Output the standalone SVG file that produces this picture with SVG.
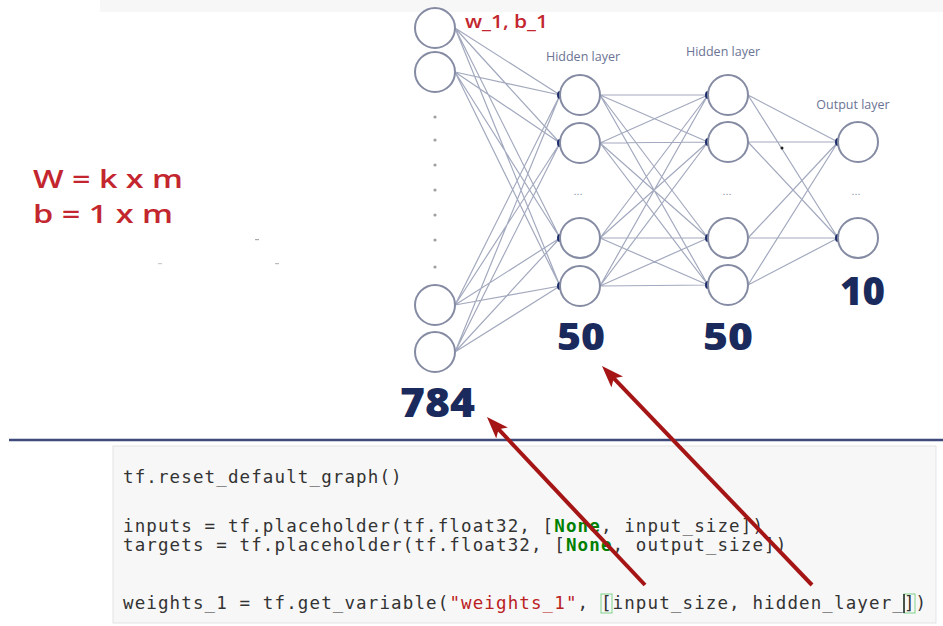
<svg xmlns="http://www.w3.org/2000/svg" width="943" height="626" viewBox="0 0 943 626">
<style>
.node{fill:#ffffff;stroke:#858ba3;stroke-width:2}
.edge{stroke:#a3a9be;stroke-width:1.2;fill:none}
.blob{fill:#1e2d6b}
.dot{fill:#a0a0a0}
.lbl{font-family:"Open Sans","Liberation Sans",sans-serif;font-size:12.5px;font-weight:400;fill:#6b7394}
.ell{font-family:"Liberation Sans",sans-serif;font-size:11px;fill:#8a90a8}
.num{font-family:"Open Sans","Liberation Sans",sans-serif;font-weight:800;fill:#1b2a5c}
.red{font-family:"Open Sans","Liberation Sans",sans-serif;font-weight:600;fill:#c3262e}
.code{font-family:"DejaVu Sans Mono","Liberation Mono",monospace;font-size:17.5px;letter-spacing:1.12px;fill:#333333}
.kw{fill:#008000;font-weight:bold}
.str{fill:#ba2121}
.arrow{stroke:#a51515;stroke-width:4;fill:none}
</style>
<defs>
<marker id="ah" markerUnits="userSpaceOnUse" markerWidth="24" markerHeight="18" refX="10" refY="8" orient="auto">
<path d="M0,0 L22,8 L0,16 L5,8 z" fill="#a51515"/>
</marker>
</defs>
<rect x="0" y="0" width="943" height="626" fill="#ffffff"/>
<rect x="100" y="0" width="843" height="12" fill="#f7f7f7"/>

<g id="connectors">
<path class="edge" d="M455,28 L560,95 M455,28 L560,143 M455,28 L560,238 M455,28 L560,286
M455,72 L560,95 M455,72 L560,143 M455,72 L560,238 M455,72 L560,286
M455,305 L560,95 M455,305 L560,143 M455,305 L560,238 M455,305 L560,286
M455,352 L560,95 M455,352 L560,143 M455,352 L560,238 M455,352 L560,286"/>
<path class="edge" d="M600,95 L708,95 M600,95 L708,142 M600,95 L708,238 M600,95 L708,285
M600,143 L708,95 M600,143 L708,142 M600,143 L708,238 M600,143 L708,285
M600,238 L708,95 M600,238 L708,142 M600,238 L708,238 M600,238 L708,285
M600,286 L708,95 M600,286 L708,142 M600,286 L708,238 M600,286 L708,285"/>
<path class="edge" d="M748,95 L838,142 M748,95 L838,238 M748,142 L838,142 M748,142 L838,238
M748,238 L838,142 M748,238 L838,238 M748,285 L838,142 M748,285 L838,238"/>
<ellipse class="blob" cx="560" cy="95" rx="3" ry="4"/>
<ellipse class="blob" cx="560" cy="143" rx="3" ry="4"/>
<ellipse class="blob" cx="560" cy="238" rx="3" ry="4"/>
<ellipse class="blob" cx="560" cy="286" rx="3" ry="4"/>
<ellipse class="blob" cx="708" cy="95" rx="3" ry="4"/>
<ellipse class="blob" cx="708" cy="142" rx="3" ry="4"/>
<ellipse class="blob" cx="708" cy="238" rx="3" ry="4"/>
<ellipse class="blob" cx="708" cy="285" rx="3" ry="4"/>
<ellipse class="blob" cx="838" cy="142" rx="3" ry="4"/>
<ellipse class="blob" cx="838" cy="238" rx="3" ry="4"/>
<circle cx="782" cy="148" r="1.5" fill="#222"/>
</g>

<g id="input-layer">
<circle class="node" cx="435" cy="28" r="20"/>
<circle class="node" cx="435" cy="72" r="20"/>
<circle class="dot" cx="435" cy="117" r="1.6"/>
<circle class="dot" cx="435" cy="140" r="1.6"/>
<circle class="dot" cx="435" cy="165" r="1.6"/>
<circle class="dot" cx="435" cy="190" r="1.6"/>
<circle class="dot" cx="435" cy="215" r="1.6"/>
<circle class="dot" cx="435" cy="240" r="1.6"/>
<circle class="dot" cx="435" cy="267" r="1.6"/>
<circle class="node" cx="435" cy="305" r="20"/>
<circle class="node" cx="435" cy="352" r="20"/>
<text class="red" x="465" y="28" font-size="18" font-weight="700" textLength="83" lengthAdjust="spacingAndGlyphs">w_1, b_1</text>
<text class="num" x="400" y="417" font-size="40" textLength="75" lengthAdjust="spacingAndGlyphs">784</text>
</g>

<g id="hidden-layer-1">
<text class="lbl" x="583" y="61" text-anchor="middle">Hidden layer</text>
<circle class="node" cx="580" cy="95" r="20"/>
<circle class="node" cx="580" cy="143" r="20"/>
<text class="ell" x="578" y="195" text-anchor="middle">...</text>
<circle class="node" cx="580" cy="238" r="20"/>
<circle class="node" cx="580" cy="286" r="20"/>
<text class="num" x="557" y="350" font-size="37" textLength="48" lengthAdjust="spacingAndGlyphs">50</text>
</g>

<g id="hidden-layer-2">
<text class="lbl" x="723" y="56" text-anchor="middle">Hidden layer</text>
<circle class="node" cx="728" cy="95" r="20"/>
<circle class="node" cx="728" cy="142" r="20"/>
<text class="ell" x="727" y="195" text-anchor="middle">...</text>
<circle class="node" cx="728" cy="238" r="20"/>
<circle class="node" cx="728" cy="285" r="20"/>
<text class="num" x="703" y="350" font-size="37" textLength="50" lengthAdjust="spacingAndGlyphs">50</text>
</g>

<g id="output-layer">
<text class="lbl" x="853" y="109" text-anchor="middle">Output layer</text>
<circle class="node" cx="858" cy="142" r="20"/>
<text class="ell" x="856" y="195" text-anchor="middle">...</text>
<circle class="node" cx="858" cy="238" r="20"/>
<text class="num" x="840" y="305" font-size="38" textLength="45" lengthAdjust="spacingAndGlyphs">10</text>
</g>

<g id="formulas">
<text class="red" x="33" y="188" font-size="25" textLength="150" lengthAdjust="spacingAndGlyphs">W = k x m</text>
<text class="red" x="33" y="223" font-size="25" textLength="140" lengthAdjust="spacingAndGlyphs">b = 1 x m</text>
<rect x="255" y="239" width="4" height="1.2" fill="#aaa"/>
<rect x="158" y="263" width="4" height="1.2" fill="#ccc"/>
<rect x="275" y="263" width="4" height="1.2" fill="#bbb"/>
</g>

<line x1="9" y1="440" x2="943" y2="440" stroke="#3d4a7a" stroke-width="2.5"/>

<g id="code-cell">
<rect x="113" y="446" width="823" height="177" fill="#f7f7f7" stroke="#e3e3e3" stroke-width="1"/>
<text class="code" x="123" y="483">tf.reset_default_graph()</text>
<text class="code" x="123" y="532">inputs = tf.placeholder(tf.float32, [<tspan class="kw">None</tspan>, input_size])</text>
<text class="code" x="123" y="551">targets = tf.placeholder(tf.float32, [<tspan class="kw">None</tspan>, output_size])</text>
<rect x="601" y="594" width="11" height="19" fill="none" stroke="#7fd48a" stroke-width="1"/>
<rect x="904" y="594" width="11" height="19" fill="none" stroke="#7fd48a" stroke-width="1"/>
<text class="code" x="123" y="609">weights_1 = tf.get_variable(<tspan class="str">"weights_1"</tspan>, [input_size, hidden_layer_])</text>
<line x1="904" y1="594" x2="904" y2="613" stroke="#222" stroke-width="1.5"/>
</g>

<g id="arrows">
<line class="arrow" x1="645" y1="585" x2="495.2" y2="425.7" marker-end="url(#ah)"/>
<line class="arrow" x1="812" y1="585" x2="610.3" y2="374.7" marker-end="url(#ah)"/>
</g>
</svg>
